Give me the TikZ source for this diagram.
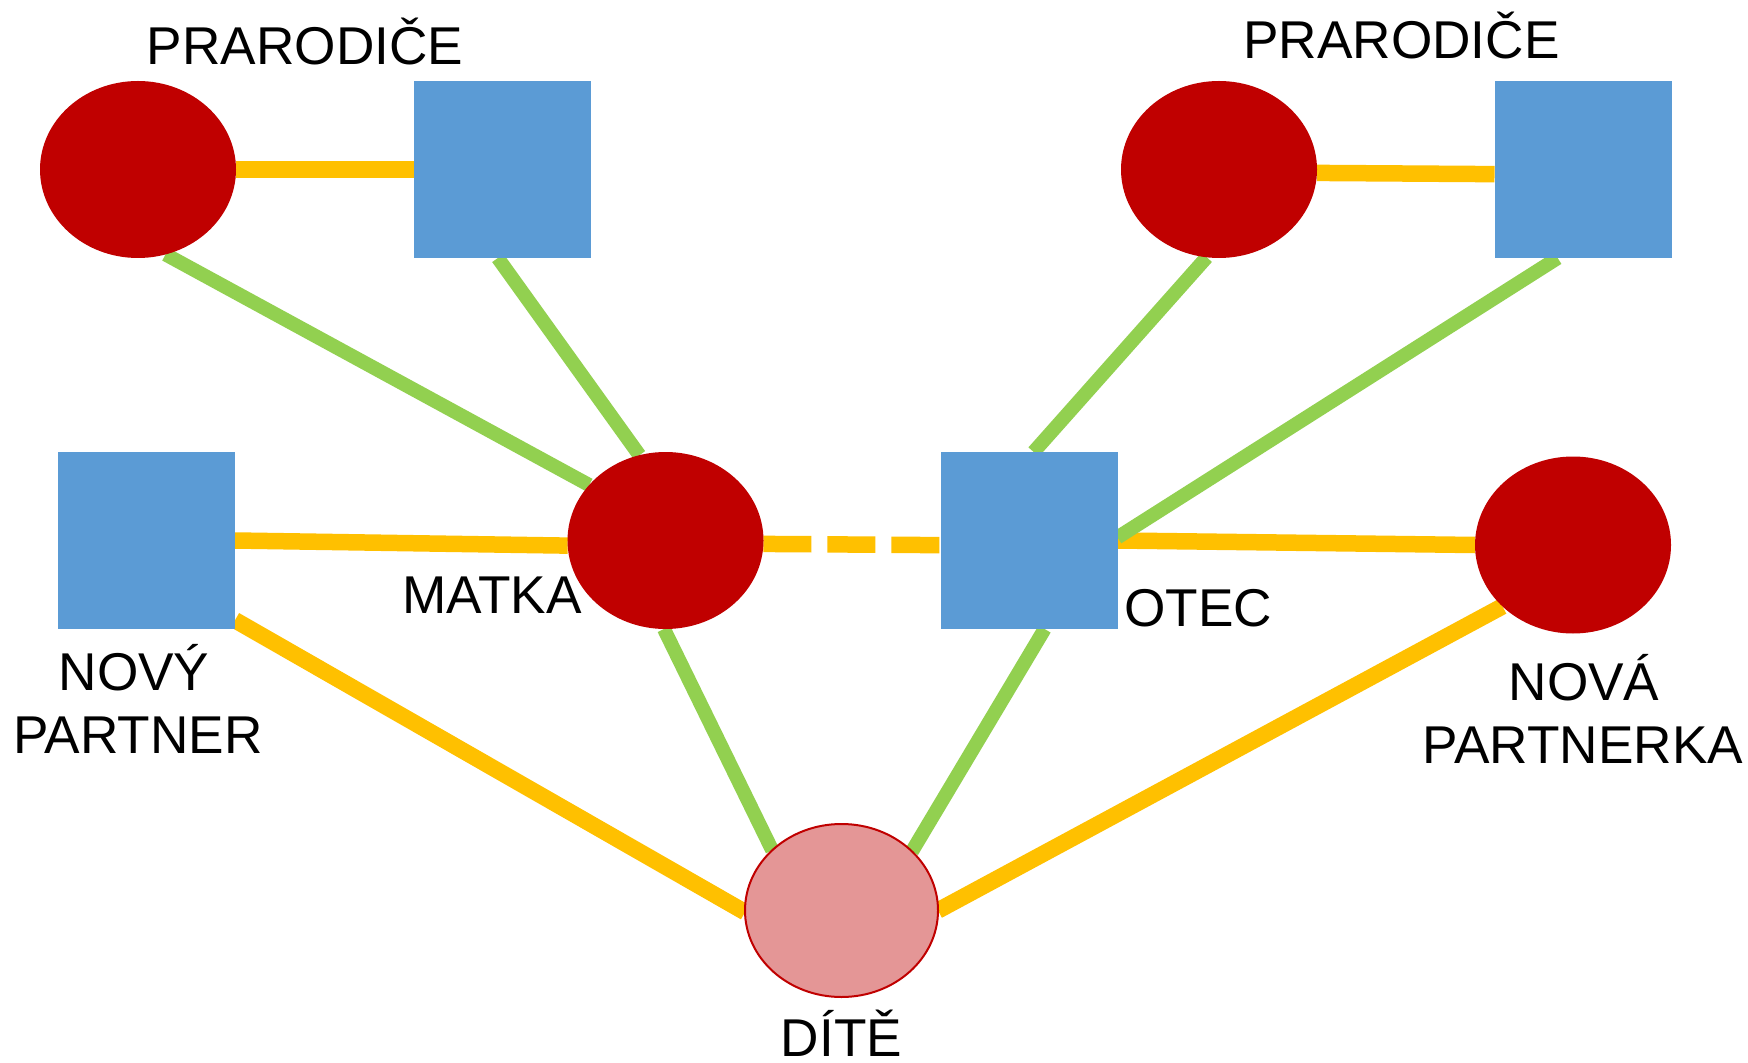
\documentclass[tikz,border=0pt]{standalone}
\usepackage{fontspec}
\setmainfont{Liberation Sans}
\usetikzlibrary{shapes.geometric}
\definecolor{redn}{HTML}{C00000}
\definecolor{bluen}{HTML}{5B9BD5}
\definecolor{orangel}{HTML}{FFC000}
\definecolor{greenl}{HTML}{92D050}
\definecolor{pinkn}{HTML}{E49696}
\pgfdeclarelayer{bg}
\pgfdeclarelayer{lines}
\pgfsetlayers{bg,lines,main}
\tikzset{
  fem/.style={ellipse, fill=redn, minimum width=98pt, minimum height=88.5pt, inner sep=0pt, outer sep=0pt},
  mal/.style={rectangle, fill=bluen, minimum width=88.5pt, minimum height=88.5pt, inner sep=0pt, outer sep=0pt},
  child/.style={ellipse, fill=pinkn, draw=redn, line width=1pt, minimum width=96.5pt, minimum height=86.5pt, inner sep=0pt, outer sep=0pt},
  lbl/.style={inner sep=0pt, anchor=base, font=\fontsize{26.6pt}{32pt}\selectfont},
  oline/.style={draw=orangel, line width=8.25pt},
  gline/.style={draw=greenl, line width=7pt}
}
\begin{document}
\begin{tikzpicture}[x=0.5pt, y=-0.5pt]
\begin{pgfonlayer}{bg}
  \fill[white] (0,0) rectangle (1748,1063);
\end{pgfonlayer}
\useasboundingbox (0,0) rectangle (1748,1063);

% nodes
\node[fem] (tle) at (138,169.5) {};
\node[mal] (tls) at (502.5,169.5) {};
\node[fem] (tre) at (1219,169.5) {};
\node[mal] (trs) at (1583,169.5) {};
\node[mal] (nps) at (146.5,540.5) {};
\node[fem] (matka) at (665.5,540.5) {};
\node[mal] (otec) at (1029,540.5) {};
\node[fem] (npe) at (1573,545) {};
\node[child] (dite) at (841.5,910.5) {};

% labels
\node[lbl] (l1) at (305,65) {PRARODIČE};
\node[lbl] (l2) at (1401.5,59) {PRARODIČE};
\node[lbl] (l3) at (492,613) {MATKA};
\node[lbl] (l4) at (1198,626) {OTEC};
\node[lbl] (l5) at (134,690) {NOVÝ};
\node[lbl] (l6) at (138,753) {PARTNER};
\node[lbl] (l7) at (1584,700) {NOVÁ};
\node[lbl] (l8) at (1583,763) {PARTNERKA};
\node[lbl] (l9) at (841.5,1056) {DÍTĚ};

% connectors
\begin{pgfonlayer}{lines}
  \draw[oline] (tle.east) -- (tls.west);
  \draw[oline] (tre.-2.9) -- (trs.183.2);
  \draw[oline] (nps.east) -- (matka.183.2);
  \draw[oline, dash pattern=on 24pt off 8pt] (matka.-2.6) -- (otec.183);
  \draw[oline] (otec.east) -- (npe.west);
  \draw[oline] (nps.-42.3) -- (dite.181.5);
  \draw[oline] (npe.221.7) -- (dite.east);
  \draw[gline] (tle.-72.7) -- (matka.144);
  \draw[gline] (tls.-93) -- (matka.107.8);
  \draw[gline] (tre.-98.5) -- (otec.87);
  \draw[gline] (trs.-106.6) -- (otec.2.9);
  \draw[gline] (matka.-91.6) -- (dite.139.3);
  \draw[gline] (otec.-80) -- (dite.40.8);
\end{pgfonlayer}
\end{tikzpicture}
\end{document}
